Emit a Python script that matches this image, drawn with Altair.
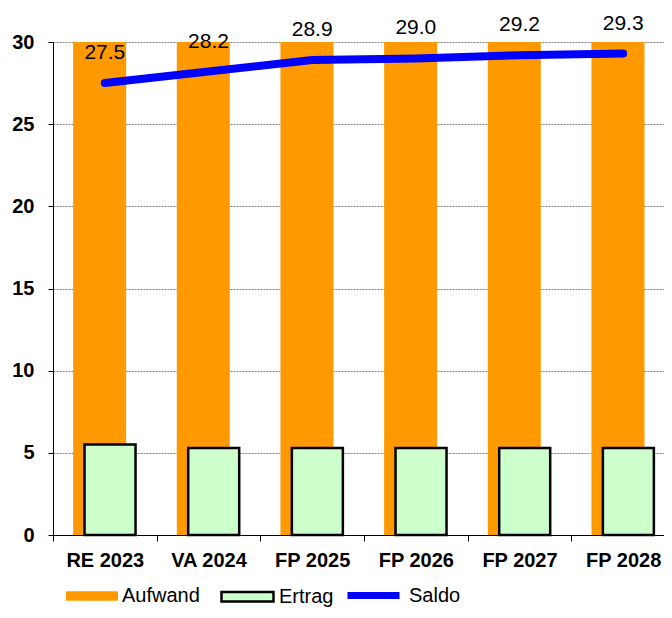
import altair as alt
import pandas as pd

categories = ["RE 2023", "VA 2024", "FP 2025", "FP 2026", "FP 2027", "FP 2028"]
aufwand = [33.0, 33.5, 34.2, 34.3, 34.5, 34.6]
ertrag = [5.5, 5.3, 5.3, 5.3, 5.3, 5.3]
saldo = [27.5, 28.2, 28.9, 29.0, 29.2, 29.3]
y_ticks = [0, 5, 10, 15, 20, 25, 30]
bar_names = ["Aufwand", "Ertrag"]
bar_colors = ["#FF9900", "#CCFFCC"]
bar_strokes = ["#FF9900", "#000000"]
bar_borders = [0, 2.5]
line_names = ["Saldo"]
line_colors = ["#0000FF"]

rows = []
for name, vals in zip(bar_names + line_names, [aufwand, ertrag, saldo]):
    for c, v in zip(categories, vals):
        rows.append({"cat": c, "series": name, "value": v})
df = pd.DataFrame(rows)

FONT = "Liberation Sans"
rect_path = "M-1,-0.18H1V0.18H-1Z"

bar_legend = alt.Legend(
    title=None,
    orient="none",
    direction="horizontal",
    legendX=13,
    legendY=527,
    symbolSize=2704,
    symbolType=rect_path,
    symbolOpacity=1,
    labelFont=FONT,
    labelFontSize=20,
    labelColor="black",
    labelOffset=4,
    columnPadding=16,
)
line_legend = alt.Legend(
    title=None,
    orient="none",
    direction="horizontal",
    legendX=291,
    legendY=524,
    symbolSize=2704,
    symbolType="stroke",
    symbolStrokeWidth=7,
    symbolOpacity=1,
    labelFont=FONT,
    labelFontSize=20,
    labelColor="black",
    labelOffset=6,
)

x_enc = alt.X(
    "cat:N",
    sort=categories,
    scale=alt.Scale(paddingInner=0, paddingOuter=0, range=[0, 622]),
    axis=alt.Axis(
        title=None,
        labelAngle=0,
        tickBand="extent",
        tickSize=6,
        labelPadding=9,
        labelFont=FONT,
        labelFontWeight="bold",
        labelFontSize=20,
        labelColor="black",
        grid=False,
        domainColor="black",
        tickColor="black",
    ),
)
y_enc = alt.Y(
    "value:Q",
    scale=alt.Scale(domain=[0, 30], nice=False),
    axis=alt.Axis(
        title=None,
        values=y_ticks,
        tickSize=5,
        labelPadding=14,
        labelFont=FONT,
        labelFontWeight="bold",
        labelFontSize=20,
        labelColor="black",
        grid=True,
        gridColor="#808080",
        gridDash=[2, 1],
        gridWidth=1,
        domainColor="black",
        tickColor="black",
    ),
)
bar_fill = alt.Fill(
    "series:N", scale=alt.Scale(domain=bar_names, range=bar_colors), legend=bar_legend
)
bar_stroke = alt.Stroke(
    "series:N", scale=alt.Scale(domain=bar_names, range=bar_strokes), legend=bar_legend
)
bar_sw = alt.StrokeWidth(
    "series:N", scale=alt.Scale(domain=bar_names, range=bar_borders), legend=bar_legend
)
line_stroke = alt.Stroke(
    "series:N", scale=alt.Scale(domain=line_names, range=line_colors), legend=line_legend
)

base = alt.Chart(df)

bars_a = base.transform_filter(alt.datum.series == "Aufwand").mark_bar(
    width=53, xOffset=-5.2, clip=True, opacity=1
).encode(x=x_enc, y=y_enc, fill=bar_fill, stroke=bar_stroke, strokeWidth=bar_sw)

bars_e = base.transform_filter(alt.datum.series == "Ertrag").mark_bar(
    width=51, xOffset=5.2, opacity=1
).encode(x=x_enc, y=y_enc, fill=bar_fill, stroke=bar_stroke, strokeWidth=bar_sw)

bars = alt.layer(bars_a, bars_e)

line = base.transform_filter(alt.datum.series == "Saldo").mark_line(
    strokeWidth=8, strokeCap="round", strokeJoin="round"
).encode(x=x_enc, y=y_enc, stroke=line_stroke)

labels = base.transform_filter(alt.datum.series == "Saldo").mark_text(
    dy=-30, font=FONT, fontSize=21, color="black"
).encode(x=x_enc, y=y_enc, text=alt.Text("value:Q", format=".1f"))

chart = (
    alt.layer(bars, line, labels)
    .resolve_scale(fill="independent", stroke="independent", strokeWidth="independent")
    .resolve_legend(fill="independent", stroke="independent", strokeWidth="independent")
    .properties(
        width=611,
        height=493,
        autosize=alt.AutoSizeParams(type="none"),
        padding={"left": 45, "top": 34, "right": 0, "bottom": 75},
    )
    .configure_view(strokeWidth=0)
)

chart.save("out.html", embed_options={"renderer": "svg", "actions": False})
